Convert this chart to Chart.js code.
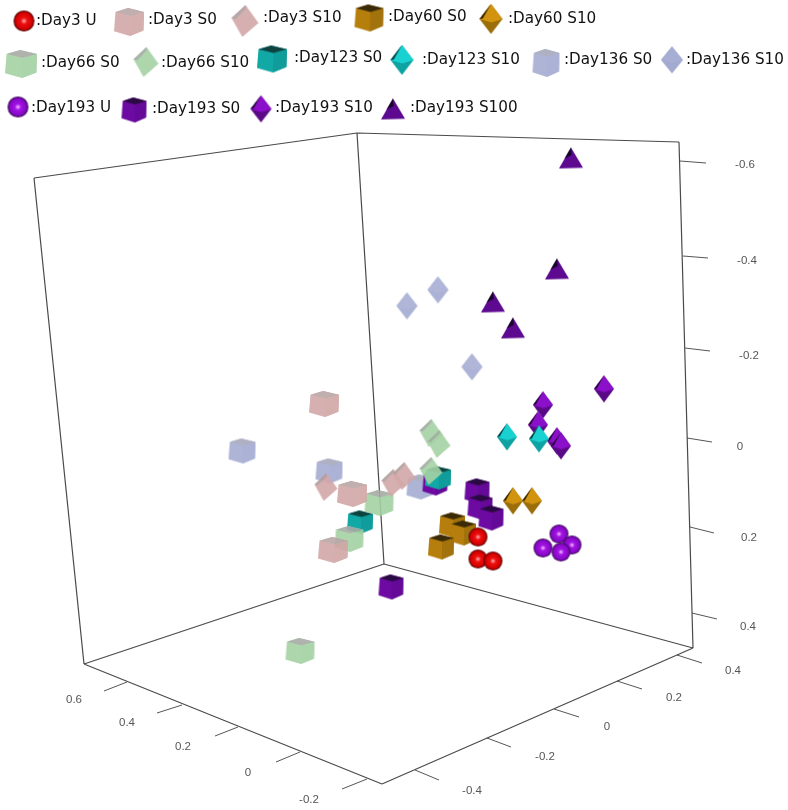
<!DOCTYPE html>
<html>
<head>
<meta charset="utf-8">
<style>
  html, body { margin: 0; padding: 0; background: #fff; }
  canvas { display: block; }
</style>
<script src="https://cdn.jsdelivr.net/npm/chart.js@4/dist/chart.umd.min.js"></script>
</head>
<body>
<canvas id="chart" width="788" height="810"></canvas>
<script>
// projected positions, [across, down]
const day3U = [[478,537],[478,559],[493,561]];
const day3S0 = [[324,404],[352,494],[333,550]];
const day3S10 = [[326,487],[393,483],[404,476]];
const day60S0 = [[452,525],[463,533],[441,547]];
const day60S10 = [[513,501],[532,501]];
const day66S0 = [[379,503],[349,539],[300,651]];
const day66S10 = [[431,433],[439,444],[431,471]];
const day123S0 = [[438,478],[360,522]];
const day123S10 = [[507,437],[539,439]];
const day136S0 = [[242,451],[329,471],[420,487]];
const day136S10 = [[407,306],[438,290],[472,367]];
const day193U = [[559,534],[572,545],[543,548],[561,552]];
const day193S0 = [[435,483],[477,491],[480,507],[491,518],[391,587]];
const day193S10 = [[604,389],[543,405],[538,425],[557,441],[561,446]];
const day193S100 = [[571,158],[557,269],[493,302],[513,328]];

const seriesNames = ['Day3 U','Day3 S0','Day3 S10','Day60 S0','Day60 S10','Day66 S0','Day66 S10','Day123 S0',
  'Day123 S10','Day136 S0','Day136 S10','Day193 U','Day193 S0','Day193 S10','Day193 S100'];
const seriesValues = [day3U,day3S0,day3S10,day60S0,day60S10,day66S0,day66S10,day123S0,
  day123S10,day136S0,day136S10,day193U,day193S0,day193S10,day193S100];
// later in this list is painted on top
const paintOrder = [9,12,7,10,13,14,8,3,4,11,0,5,1,2,6];

const legendMarks = [[24,21],[129,22],[245,21],[369,18],[491,19],[21,64],[146,62],[272,59],
  [402,60],[546,63],[672,60],[18,107],[134,110],[261,109],[393,109]];
const legendTexts = [[36,21],[148,20],[263,18],[388,17],[508,19],[41,63],[161,63],[294,58],
  [422,60],[564,60],[686,60],[31,108],[152,109],[275,108],[410,108]];

// box outline
const boxEdges = [[[34,178],[357,133]],[[357,133],[679,142]],[[34,178],[84,664]],[[357,133],[384,564]],
  [[679,142],[693,648]],[[84,664],[384,564]],[[384,564],[693,648]],[[84,664],[382,784]],[[382,784],[693,648]]];

const tickSegments = [
  [[680,161],[706,163]],[[683,256],[708,258]],[[685,348],[710,351]],[[687,438],[712,442]],[[690,527],[714,533]],[[692,613],[717,619]],
  [[677,655],[702,663]],[[617,681],[642,689]],[[554,709],[579,717]],[[487,738],[511,747]],[[415,770],[439,780]],
  [[127,682],[104,691]],[[182,705],[157,713]],[[238,727],[215,736]],[[300,752],[276,762]],[[367,779],[342,789]]];
const tickLabels = ['-0.6','-0.4','-0.2','0','0.2','0.4','0.4','0.2','0','-0.2','-0.4','0.6','0.4','0.2','0','-0.2'];
const tickLabelAt = [[745,165],[747,261],[749,356],[740,447],[749,538],[748,627],
  [733,671],[674,698],[607,727],[545,757],[472,791],[74,700],[127,723],[183,747],[248,773],[309,800]];

const CUBE = {
  gold: ['#3b2a08','#b67e0d','#a2720c'], teal: ['#0e4341','#11a8a6','#0f9c9a'], purple: ['#2b0a43','#6c0aa2','#650a98'],
  pink: ['#b8a6a6','#d2a7a7','#d0a5a5'], green: ['#a6aaa4','#a4d2a4','#a2d0a2'], blue: ['#a6a8bc','#a4acd2','#a2aad0']
};
const OCTA = {
  gold: ['#d2930f','#9c6e0a','#2a1e05'], teal: ['#18d2d2','#0fa2a2','#063c3c'], purple: ['#8b10ca','#5b0a87','#1f072e'],
  pink: ['#d2a7a7','#cea3a3','#ae9f9f'], green: ['#a4d2a4','#a0cea0','#a3aaa3'], blue: ['#a6aed4','#a2aad0','#a6aed4']
};

function newMark(w, h) {
  const c = document.createElement('canvas');
  c.width = w + 4;
  c.height = h + 4;
  const g = c.getContext('2d');
  g.filter = 'blur(0.5px)';
  g.translate(c.width / 2, c.height / 2);
  return [c, g];
}

// thin the finished mark so its faces don't show seams
function fade(c, g, alpha) {
  g.setTransform(1, 0, 0, 1, 0, 0);
  g.filter = 'none';
  g.globalCompositeOperation = 'destination-in';
  g.fillStyle = 'rgba(0,0,0,' + alpha + ')';
  g.fillRect(0, 0, c.width, c.height);
  return c;
}

function poly(g, w, h, pts, fill) {
  g.fillStyle = fill;
  g.beginPath();
  pts.forEach((p, i) => i ? g.lineTo(p[0] * w, p[1] * h) : g.moveTo(p[0] * w, p[1] * h));
  g.closePath();
  g.fill();
}

function sphereMark(d, colors) {
  const [c, g] = newMark(d, d);
  const r = d / 2;
  const grad = g.createRadialGradient(0, 0, 0, 0, 0, r);
  grad.addColorStop(0, colors[0]);
  grad.addColorStop(0.3, colors[1]);
  grad.addColorStop(0.8, colors[2]);
  grad.addColorStop(1, colors[3]);
  g.fillStyle = grad;
  g.beginPath();
  g.arc(0, 0, r, 0, Math.PI * 2);
  g.fill();
  return c;
}

function cubeMark(w, h, cols, alpha) {
  const [c, g] = newMark(w, h);
  poly(g, w, h, [[-.45,-.36],[-.03,-.5],[.5,-.36],[.48,.3],[.03,.5],[-.5,.33]], cols[1]);
  poly(g, w, h, [[.05,-.22],[.5,-.36],[.48,.3],[.03,.5]], cols[2]);
  poly(g, w, h, [[-.45,-.36],[-.03,-.5],[.5,-.36],[.05,-.22]], cols[0]);
  return fade(c, g, alpha);
}

function octaMark(w, h, cols, alpha) {
  const [c, g] = newMark(w, h);
  poly(g, w, h, [[0,-.5],[.5,0],[0,.5],[-.5,0]], cols[1]);
  poly(g, w, h, [[0,-.5],[.5,0],[.02,.12],[-.5,0]], cols[0]);
  poly(g, w, h, [[0,-.5],[-.5,0],[-.36,-.02]], cols[2]);
  return fade(c, g, alpha);
}

// the pale octahedra sit tilted in the reference
function tiltMark(w, h, cols, alpha) {
  const [c, g] = newMark(w, h);
  poly(g, w, h, [[.02,-.5],[.5,.06],[-.1,.5],[-.5,-.09]], cols[0]);
  poly(g, w, h, [[.02,-.5],[-.5,-.09],[-.36,-.05],[.03,-.38]], cols[2]);
  return fade(c, g, alpha);
}

function tetraMark(w, h) {
  const [c, g] = newMark(w, h);
  poly(g, w, h, [[0,-.5],[.5,.46],[-.5,.5]], '#5e0a90');
  poly(g, w, h, [[0,-.5],[-.27,.02],[.03,-.14]], '#16062a');
  return c;
}

const RED = ['#ffb8b8','#f01010','#d00000','#400000'];
const VIOLET = ['#f4c0ff','#a412e4','#8408c4','#300648'];

function marksFor(big) {
  return [
    sphereMark(big ? 21 : 19, RED),
    cubeMark(30, big ? 28 : 26, CUBE.pink, .9),
    big ? tiltMark(27, 32, OCTA.pink, .9) : tiltMark(23, 28, OCTA.pink, .9),
    cubeMark(big ? 29 : 26, big ? 27 : 25, CUBE.gold, 1),
    big ? octaMark(23, 30, OCTA.gold, 1) : octaMark(20, 27, OCTA.gold, 1),
    cubeMark(big ? 32 : 29, big ? 28 : 26, CUBE.green, .9),
    big ? tiltMark(25, 30, OCTA.green, .9) : tiltMark(23, 28, OCTA.green, .9),
    cubeMark(big ? 30 : 26, big ? 27 : 23, CUBE.teal, 1),
    big ? octaMark(23, 30, OCTA.teal, 1) : octaMark(20, 27, OCTA.teal, 1),
    cubeMark(27, big ? 28 : 25, CUBE.blue, .9),
    big ? octaMark(22, 27, OCTA.blue, 1) : octaMark(21, 27, OCTA.blue, .9),
    sphereMark(big ? 21 : 19, VIOLET),
    cubeMark(25, 25, CUBE.purple, 1),
    big ? octaMark(21, 27, OCTA.purple, 1) : octaMark(20, 27, OCTA.purple, 1),
    tetraMark(24, 21)
  ];
}

const toXY = p => ({ x: p[0], y: p[1] });

function segmentSet(segments, color, width) {
  const data = [];
  segments.forEach(s => data.push(toXY(s[0]), toXY(s[1]), { x: null, y: null }));
  return { data, showLine: true, spanGaps: false, pointRadius: 0, borderColor: color, borderWidth: width, order: 100 };
}

const plotMarks = marksFor(false);
const keyMarks = marksFor(true);
const datasets = [segmentSet(boxEdges, '#4a4a4a', 1.2), segmentSet(tickSegments, '#555', 1)];

paintOrder.forEach((idx, n) => {
  datasets.push({
    label: seriesNames[idx],
    data: seriesValues[idx].map(toXY),
    pointStyle: plotMarks[idx],
    showLine: false,
    order: 50 - n
  });
});
seriesNames.forEach((name, idx) => {
  datasets.push({
    label: name + ' key',
    data: [toXY(legendMarks[idx])],
    pointStyle: keyMarks[idx],
    showLine: false,
    order: 60
  });
});

const textPlugin = {
  id: 'plotTexts',
  afterDraw(chart) {
    const { ctx, scales } = chart;
    ctx.save();
    ctx.textBaseline = 'middle';
    ctx.fillStyle = '#111';
    ctx.font = '15.2px "DejaVu Sans"';
    ctx.textAlign = 'left';
    seriesNames.forEach((name, i) => {
      ctx.fillText(':' + name, scales.x.getPixelForValue(legendTexts[i][0]), scales.y.getPixelForValue(legendTexts[i][1]));
    });
    ctx.fillStyle = '#555';
    ctx.font = '11.5px "Liberation Sans"';
    ctx.textAlign = 'center';
    tickLabels.forEach((t, i) => {
      ctx.fillText(t, scales.x.getPixelForValue(tickLabelAt[i][0]), scales.y.getPixelForValue(tickLabelAt[i][1]));
    });
    ctx.restore();
  }
};

new Chart(document.getElementById('chart').getContext('2d'), {
  type: 'scatter',
  data: { datasets },
  options: {
    responsive: false,
    animation: false,
    events: [],
    layout: { padding: 0, autoPadding: false },
    plugins: { legend: { display: false }, tooltip: { enabled: false } },
    scales: {
      x: { type: 'linear', display: false, min: 0, max: 788 },
      y: { type: 'linear', display: false, min: 0, max: 810, reverse: true }
    }
  },
  plugins: [textPlugin]
});
</script>
</body>
</html>
